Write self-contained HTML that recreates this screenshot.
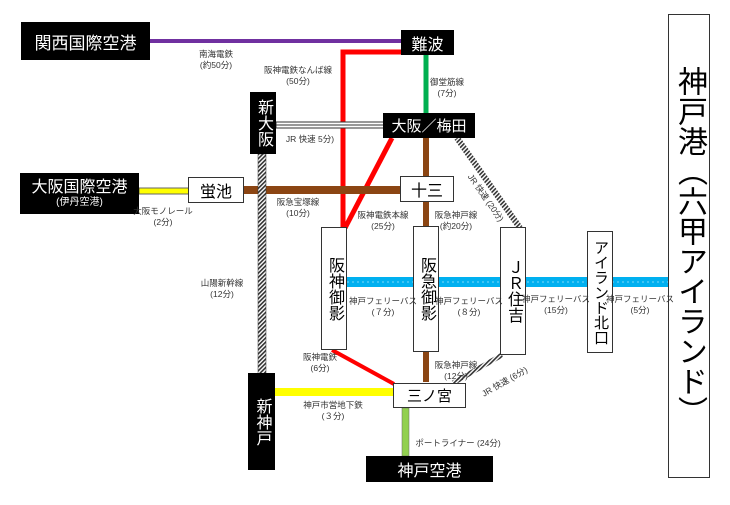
<!DOCTYPE html>
<html><head><meta charset="utf-8"><style>
body{margin:0;width:730px;height:505px;background:#fff;position:relative;overflow:hidden;font-family:"Liberation Sans","Noto Sans CJK JP",sans-serif}
.b{position:absolute;background:#000;color:#fff;display:flex;align-items:center;justify-content:center;box-sizing:border-box}
.w{position:absolute;background:#fff;color:#000;border:1px solid #333;display:flex;align-items:center;justify-content:center;box-sizing:border-box}
.v{writing-mode:vertical-rl;text-orientation:upright;letter-spacing:0}
.l{position:absolute;font-size:8.5px;color:#333;text-align:center;line-height:11px;white-space:nowrap;transform:translateX(-50%)}
.r{position:absolute;font-size:8.5px;color:#333;white-space:nowrap;line-height:11px}
svg{position:absolute;left:0;top:0}
</style></head><body>
<svg width="730" height="505">
<defs><pattern id="h" width="3" height="3" patternUnits="userSpaceOnUse" patternTransform="rotate(45)"><rect width="3" height="3" fill="#fff"/><rect width="1.6" height="3" fill="#333"/></pattern></defs>
<line x1="150" y1="41" x2="402" y2="41" stroke="#7030a0" stroke-width="4"/>
<polyline points="402,52 343,52 343,228" fill="none" stroke="#f00" stroke-width="5"/>
<line x1="392" y1="138" x2="345" y2="228" stroke="#f00" stroke-width="5"/>
<line x1="426" y1="55" x2="426" y2="113" stroke="#00b050" stroke-width="5"/>
<rect x="276" y="122" width="108" height="6" fill="#fff" stroke="#333" stroke-width="1"/>
<line x1="276" y1="125" x2="384" y2="125" stroke="#333" stroke-width="1"/>
<line x1="426" y1="138" x2="426" y2="382" stroke="#8b4513" stroke-width="6"/>
<line x1="244" y1="190" x2="400" y2="190" stroke="#8b4513" stroke-width="8"/>
<rect x="139" y="188" width="50" height="6" fill="#ffff00" stroke="#666" stroke-width="1"/>
<rect x="258" y="154" width="8" height="220" fill="url(#h)" stroke="#333" stroke-width="0.5"/>
<line x1="457" y1="138" x2="520" y2="228" stroke="url(#h)" stroke-width="6"/>
<line x1="502" y1="355" x2="453" y2="383" stroke="url(#h)" stroke-width="5"/>
<rect x="342" y="277" width="328" height="10" fill="#00b0f0"/>
<line x1="342" y1="282" x2="670" y2="282" stroke="#7fd7f7" stroke-width="1" stroke-dasharray="2,3"/>
<line x1="332" y1="350" x2="394" y2="384" stroke="#f00" stroke-width="4"/>
<rect x="274" y="388" width="120" height="8" fill="#ffff00"/>
<rect x="402" y="408" width="7" height="48" fill="#92d050" stroke="#666" stroke-width="0.5"/>
</svg>
<div class="b" style="left:21px;top:22px;width:129px;height:38px;font-size:17px">関西国際空港</div>
<div class="b" style="left:401px;top:30px;width:53px;height:25px;font-size:16px">難波</div>
<div class="b v" style="left:250px;top:92px;width:26px;height:62px;font-size:16px;line-height:24px">新大阪</div>
<div class="b" style="left:383px;top:113px;width:92px;height:25px;font-size:15px">大阪／梅田</div>
<div class="b" style="left:20px;top:173px;width:119px;height:41px;flex-direction:column;font-size:16px;line-height:18px">大阪国際空港<span style="font-size:10px;line-height:12px">(伊丹空港)</span></div>
<div class="w" style="left:188px;top:177px;width:56px;height:26px;font-size:16px">蛍池</div>
<div class="w" style="left:400px;top:176px;width:54px;height:26px;font-size:16px">十三</div>
<div class="w v" style="left:321px;top:227px;width:26px;height:123px;font-size:16px;line-height:24px">阪神御影</div>
<div class="w v" style="left:413px;top:226px;width:26px;height:126px;font-size:16px;line-height:24px">阪急御影</div>
<div class="w v" style="left:500px;top:227px;width:26px;height:128px;font-size:16px;line-height:24px">ＪＲ住吉</div>
<div class="w v" style="left:587px;top:231px;width:26px;height:122px;font-size:15px;line-height:24px">アイランド北口</div>
<div class="w v" style="left:668px;top:14px;width:42px;height:464px;font-size:30px;line-height:40px">神戸港（六甲アイランド）</div>
<div class="b v" style="left:248px;top:373px;width:27px;height:97px;font-size:16px;line-height:24px">新神戸</div>
<div class="w" style="left:393px;top:383px;width:73px;height:25px;font-size:15px">三ノ宮</div>
<div class="b" style="left:366px;top:456px;width:127px;height:26px;font-size:16px">神戸空港</div>

<div class="l" style="left:216px;top:49px">南海電鉄<br>(約50分)</div>
<div class="l" style="left:298px;top:65px">阪神電鉄なんば線<br>(50分)</div>
<div class="l" style="left:447px;top:77px">御堂筋線<br>(7分)</div>
<div class="l" style="left:310px;top:134px">JR 快速 5分)</div>
<div class="r" style="left:474px;top:172px;transform:rotate(55deg);transform-origin:left top">JR 快速 (20分)</div>
<div class="l" style="left:163px;top:206px">大阪モノレール<br>(2分)</div>
<div class="l" style="left:298px;top:197px">阪急宝塚線<br>(10分)</div>
<div class="l" style="left:383px;top:210px">阪神電鉄本線<br>(25分)</div>
<div class="l" style="left:456px;top:210px">阪急神戸線<br>(約20分)</div>
<div class="l" style="left:222px;top:278px">山陽新幹線<br>(12分)</div>
<div class="l" style="left:383px;top:296px">神戸フェリーバス<br>(７分)</div>
<div class="l" style="left:469px;top:296px">神戸フェリーバス<br>(８分)</div>
<div class="l" style="left:556px;top:294px">神戸フェリーバス<br>(15分)</div>
<div class="l" style="left:640px;top:294px">神戸フェリーバス<br>(5分)</div>
<div class="l" style="left:320px;top:352px">阪神電鉄<br>(6分)</div>
<div class="l" style="left:456px;top:360px">阪急神戸線<br>(12分)</div>
<div class="r" style="left:480px;top:390px;transform:rotate(-30deg);transform-origin:left top">JR 快速 (6分)</div>
<div class="l" style="left:333px;top:400px">神戸市営地下鉄<br>(３分)</div>
<div class="l" style="left:458px;top:438px">ポートライナー (24分)</div>
</body></html>
